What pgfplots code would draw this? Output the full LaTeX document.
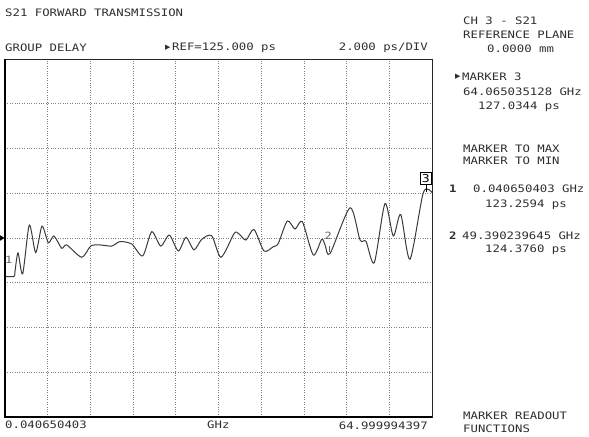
\documentclass[border=0pt]{standalone}
\usepackage{pgfplots}
\pgfplotsset{compat=1.18}
\usepackage{fontspec}
\setmainfont[FakeStretch=1.2]{DejaVu Sans Mono}
\newfontfamily\sym{DejaVu Sans}
\definecolor{txt}{HTML}{2E2E2E}
\definecolor{trace}{HTML}{3A3A3A}
\begin{document}
\begin{tikzpicture}[x=1bp,y=1bp]
\path[use as bounding box] (0,0) rectangle (589,437);
\begin{axis}[
  at={(5bp,20bp)}, anchor=south west,
  scale only axis, width=427bp, height=358bp,
  xmin=0.040650403, xmax=64.999994397,
  ymin=117, ymax=133,
  xtick={6.5366,13.0325,19.5285,26.0244,32.5203,39.0163,45.5122,52.0081,58.5041},
  ytick={119,121,123,125,127,129,131},
  xticklabels={}, yticklabels={},
  major tick length=0pt,
  grid=major,
  major grid style={black!50, line width=0.7bp, dash pattern=on 0.8bp off 1.6bp},
  axis line style={black!85, line width=0.8bp},
  clip=false,
  after end axis/.code={
    \draw[black, line width=1.6bp] (rel axis cs:0,1) -- (rel axis cs:0,0) -- (rel axis cs:1,0);
  },
]
\addplot[trace, line width=1bp, smooth, tension=0.45] coordinates {
(0.0407,123.28) (1.41,123.28) (1.56,123.5) (2.02,124.33) (2.73,123.4)
(3.74,125.58) (4.71,124.35) (5.67,125.53) (6.63,124.79) (7.49,125.09)
(8.67,124.54) (9.43,124.69) (11.71,124.14) (13.08,124.64) (14.49,124.69)
(16.27,124.64) (17.54,124.84) (19.32,124.73) (20.99,124.2) (22.36,125.28)
(23.73,124.64) (25.04,125.13) (26.41,124.42) (27.58,125.03) (28.79,124.47)
(29.97,124.94) (31.49,125.10) (32.90,124.14) (34.92,125.21) (35.64,125.18)
(36.70,124.91) (37.92,125.38) (39.44,124.42) (40.86,124.61) (41.62,124.76)
(42.99,125.76) (44.16,125.40) (45.27,125.73) (46.94,124.24) (48.22,124.94)
(48.72,124.70) (49.48,124.30) (52.53,126.35) (54.05,124.91) (54.96,124.85)
(56.22,123.90) (57.85,126.54) (59.11,125.09) (60.24,126.05) (61.65,124.05)
(63.68,127.03) (65.0,127.03)
};
% REF pointer
\fill[black] ([xshift=-0.5bp]axis cs:0.040650403,125) -- ([xshift=-5bp,yshift=2.8bp]axis cs:0.040650403,125) -- ([xshift=-5bp,yshift=-2.8bp]axis cs:0.040650403,125) -- cycle;
% marker labels
\node[txt!75, font=\fontsize{10}{10}\selectfont, inner sep=0] at (axis cs:0.6,124.0) {1};
\draw[txt!75, line width=0.6bp] (axis cs:49.39,124.376) -- ([yshift=6bp]axis cs:49.39,124.376);
\node[txt!75, font=\fontsize{10}{10}\selectfont, inner sep=0] at (axis cs:49.2,125.1) {2};
\draw[black, line width=0.7bp] (axis cs:64.065,127.034) -- ([yshift=8bp]axis cs:64.065,127.034);
\node[draw=black, line width=0.7bp, fill=white, font=\fontsize{11}{11}\selectfont, inner xsep=1.6bp, inner ysep=1.8bp, anchor=south] at ([yshift=8bp]axis cs:64.065,127.034) {3};
\end{axis}
\begin{scope}[every node/.style={inner sep=0, text=txt, font=\fontsize{10.3}{12}\selectfont}]
\node[anchor=west] at (5,424) {S21 FORWARD TRANSMISSION};
\node[anchor=west] at (5,389) {GROUP DELAY};
\node[anchor=west] at (165,389) {{\sym\fontsize{7}{7}\selectfont ▶}};
\node[anchor=west] at (172,389) {REF=125.000 ps};
\node[anchor=east] at (428,389) {2.000 ps/DIV};
\node[anchor=west] at (463,416) {CH 3 - S21};
\node[anchor=west] at (463,402) {REFERENCE PLANE};
\node[anchor=west] at (487,388) {0.0000 mm};
\node[anchor=west] at (455,360) {{\sym\fontsize{7}{7}\selectfont ▶}};
\node[anchor=west] at (462,360) {MARKER 3};
\node[anchor=west] at (463,345.5) {64.065035128 GHz};
\node[anchor=west] at (478,330) {127.0344 ps};
\node[anchor=west] at (463,288) {MARKER TO MAX};
\node[anchor=west] at (463,276.5) {MARKER TO MIN};
\node[anchor=west] at (449,248) {\bfseries 1};
\node[anchor=west] at (473,248) {0.040650403 GHz};
\node[anchor=west] at (485,232) {123.2594 ps};
\node[anchor=west] at (449,201) {\bfseries 2};
\node[anchor=west] at (462,201) {49.390239645 GHz};
\node[anchor=west] at (485,187) {124.3760 ps};
\node[anchor=west] at (5,12) {0.040650403};
\node[anchor=west] at (207,12) {GHz};
\node[anchor=east] at (428,11) {64.999994397};
\node[anchor=west] at (463,21.5) {MARKER READOUT};
\node[anchor=west] at (463,8) {FUNCTIONS};
\end{scope}
\end{tikzpicture}
\end{document}
